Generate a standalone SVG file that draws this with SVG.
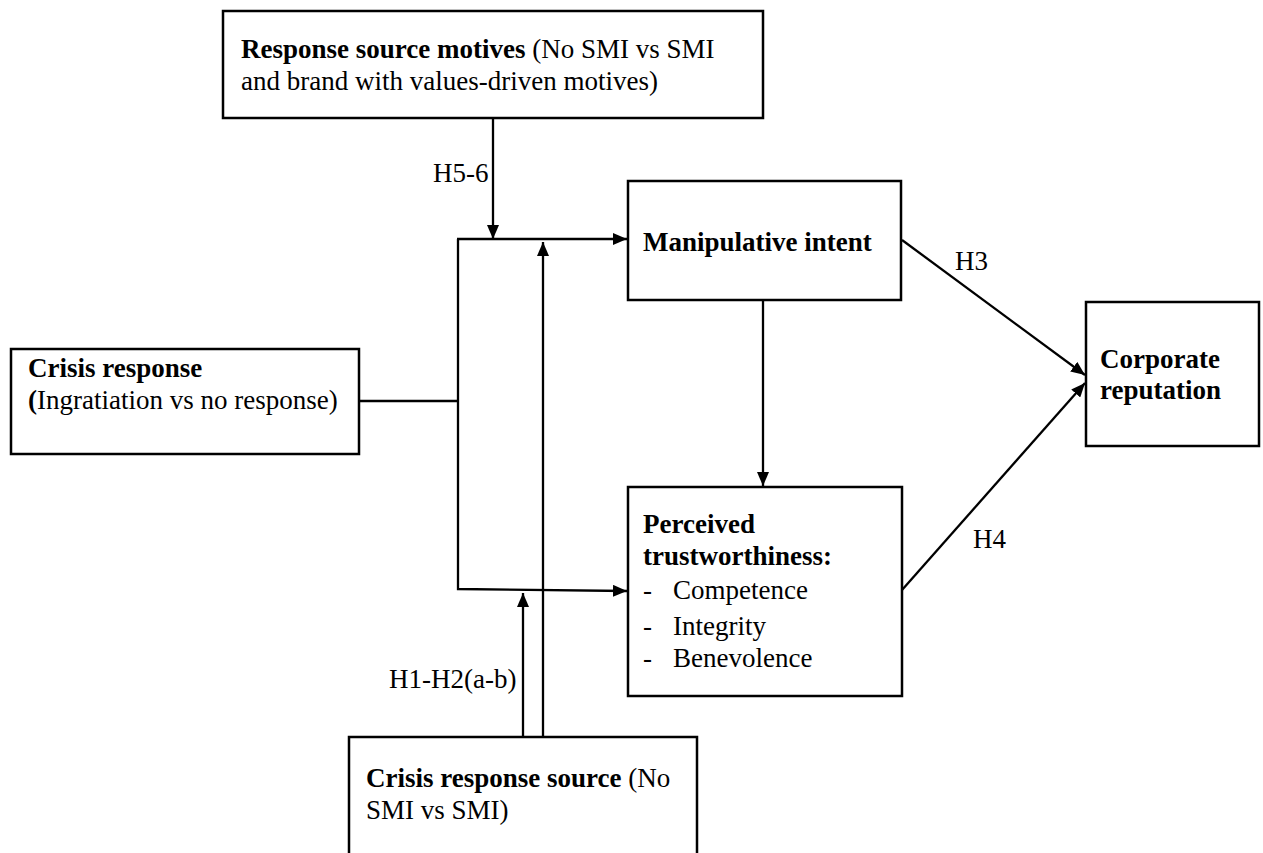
<svg xmlns="http://www.w3.org/2000/svg" width="1263" height="853" viewBox="0 0 1263 853">
<defs>
<style>
.box{fill:#fff;stroke:#000;stroke-width:2.5}
.ln{fill:none;stroke:#000;stroke-width:2.3}
text{font-family:"Liberation Serif","Times New Roman",serif;font-size:27px;fill:#000}
.b{font-weight:bold}
</style>
<marker id="ah" viewBox="0 0 14 12" refX="14" refY="6" markerWidth="14" markerHeight="12" markerUnits="userSpaceOnUse" orient="auto">
<path d="M0,0 L14,6 L0,12 Z" fill="#000"/>
</marker>
</defs>
<rect width="1263" height="853" fill="#fff"/>
<g id="connectors">
<line class="ln" x1="493" y1="118" x2="493" y2="239" marker-end="url(#ah)"/>
<line class="ln" x1="359" y1="401" x2="458" y2="401"/>
<polyline class="ln" points="458,239 458,589 627,591" marker-end="url(#ah)"/>
<line class="ln" x1="457" y1="239" x2="627" y2="239" marker-end="url(#ah)"/>
<line class="ln" x1="543" y1="737" x2="543" y2="242" marker-end="url(#ah)"/>
<line class="ln" x1="523" y1="737" x2="523" y2="593" marker-end="url(#ah)"/>
<line class="ln" x1="763" y1="300" x2="763" y2="486" marker-end="url(#ah)"/>
<line class="ln" x1="902" y1="240" x2="1085" y2="375" marker-end="url(#ah)"/>
<line class="ln" x1="902" y1="590" x2="1085" y2="383" marker-end="url(#ah)"/>
<text x="433" y="182">H5-6</text>
<text x="389" y="688">H1-H2(a-b)</text>
<text x="955" y="270">H3</text>
<text x="973" y="548">H4</text>
</g>
<g id="response-source-motives">
<rect class="box" x="223" y="11" width="540" height="107"/>
<text x="241" y="58"><tspan class="b">Response source motives</tspan> (No SMI vs SMI</text>
<text x="241" y="90">and brand with values-driven motives)</text>
</g>
<g id="crisis-response">
<rect class="box" x="11" y="349" width="348" height="105"/>
<text x="28" y="377" class="b">Crisis response</text>
<text x="28" y="409"><tspan class="b">(</tspan>Ingratiation vs no response)</text>
</g>
<g id="manipulative-intent">
<rect class="box" x="628" y="181" width="273" height="119"/>
<text x="643" y="251" class="b">Manipulative intent</text>
</g>
<g id="perceived-trustworthiness">
<rect class="box" x="628" y="487" width="274" height="209"/>
<text x="643" y="533" class="b">Perceived</text>
<text x="643" y="565" class="b">trustworthiness:</text>
<text x="643" y="599">-</text><text x="673" y="599">Competence</text>
<text x="643" y="635">-</text><text x="673" y="635">Integrity</text>
<text x="643" y="667">-</text><text x="673" y="667">Benevolence</text>
</g>
<g id="corporate-reputation">
<rect class="box" x="1086" y="302" width="173" height="144"/>
<text x="1100" y="368" class="b">Corporate</text>
<text x="1100" y="399" class="b">reputation</text>
</g>
<g id="crisis-response-source">
<rect class="box" x="349" y="737" width="348" height="130"/>
<text x="366" y="787"><tspan class="b">Crisis response source</tspan> (No</text>
<text x="366" y="819">SMI vs SMI)</text>
</g>
</svg>
